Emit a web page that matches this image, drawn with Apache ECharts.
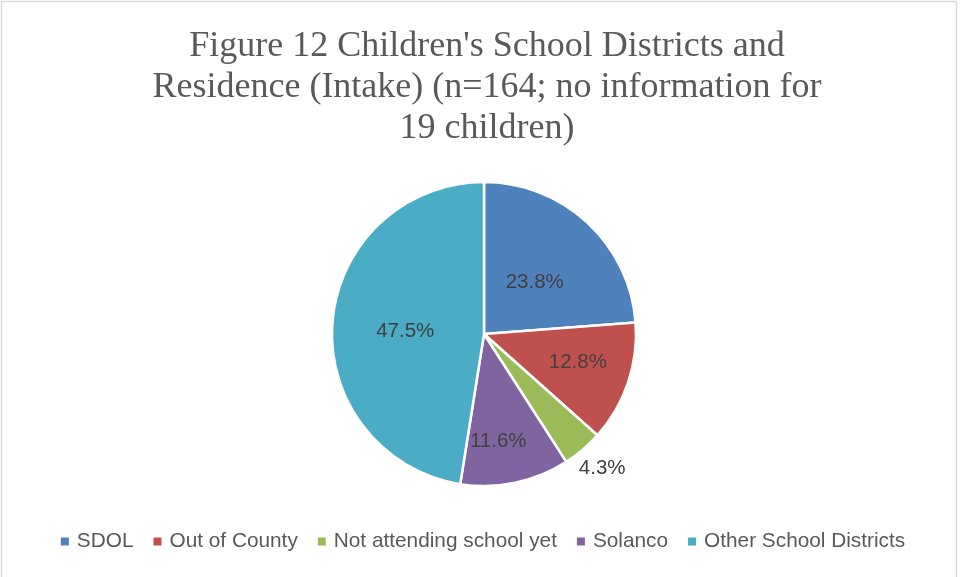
<!DOCTYPE html>
<html>
<head>
<meta charset="utf-8">
<script src="https://cdn.jsdelivr.net/npm/echarts@6/dist/echarts.min.js"></script>
<style>
html,body{margin:0;padding:0;background:#fff;}
#chart{width:964px;height:577px;}
</style>
</head>
<body>
<div id="chart"></div>
<script>
const titleText = "Figure 12 Children's School Districts and\nResidence (Intake) (n=164; no information for\n19 children)";
const categories = ["SDOL", "Out of County", "Not attending school yet", "Solanco", "Other School Districts"];
const values = [23.8, 12.8, 4.3, 11.6, 47.5];
const colors = ["#4F81BD", "#C0504D", "#9BBB59", "#8064A2", "#4BACC6"];
// label nudges (dx, dy) to mimic the spreadsheet's label placement
const labelNudgeX = [-3, 19, -18, -2, 0];
const labelNudgeY = [6, 3, 8, 30, 4];

const chart = echarts.init(document.getElementById('chart'));
const data = categories.map((c, i) => {
  const item = { name: c, value: values[i], itemStyle: { color: colors[i] } };
  if (c === "Not attending school yet") {
    item.label = { position: 'outside' };
    item.labelLine = { show: false, length: 14, length2: 0 };
  }
  return item;
});

chart.setOption({
  animation: false,
  backgroundColor: '#fff',
  graphic: [{
    type: 'rect',
    shape: { x: 1.5, y: 1.5, width: 955, height: 580 },
    style: { fill: 'none', stroke: '#d9d9d9', lineWidth: 1.5 },
    silent: true
  }],
  title: {
    text: titleText,
    left: 482,
    top: 21,
    textAlign: 'center',
    textStyle: {
      fontFamily: 'Liberation Serif',
      fontWeight: 'normal',
      fontSize: 36,
      lineHeight: 41,
      color: '#595959'
    }
  },
  legend: {
    bottom: 20,
    left: 'center',
    icon: 'rect',
    itemWidth: 10,
    itemHeight: 10,
    itemGap: 18,
    textStyle: { fontFamily: 'Liberation Sans', fontSize: 20.8, color: '#595959', padding: [0,0,0,2] },
    data: categories
  },
  series: [{
    type: 'pie',
    center: [484, 334],
    radius: 152,
    startAngle: 90,
    clockwise: true,
    itemStyle: { borderColor: '#fff', borderWidth: 2.5 },
    label: {
      show: true,
      position: 'inside',
      formatter: p => p.value.toFixed(1) + '%',
      fontFamily: 'Liberation Sans',
      fontSize: 20.5,
      color: '#404040'
    },
    labelLayout: p => ({ dx: labelNudgeX[p.dataIndex], dy: labelNudgeY[p.dataIndex] }),
    emphasis: { disabled: true },
    data: data
  }]
});
</script>
</body>
</html>
